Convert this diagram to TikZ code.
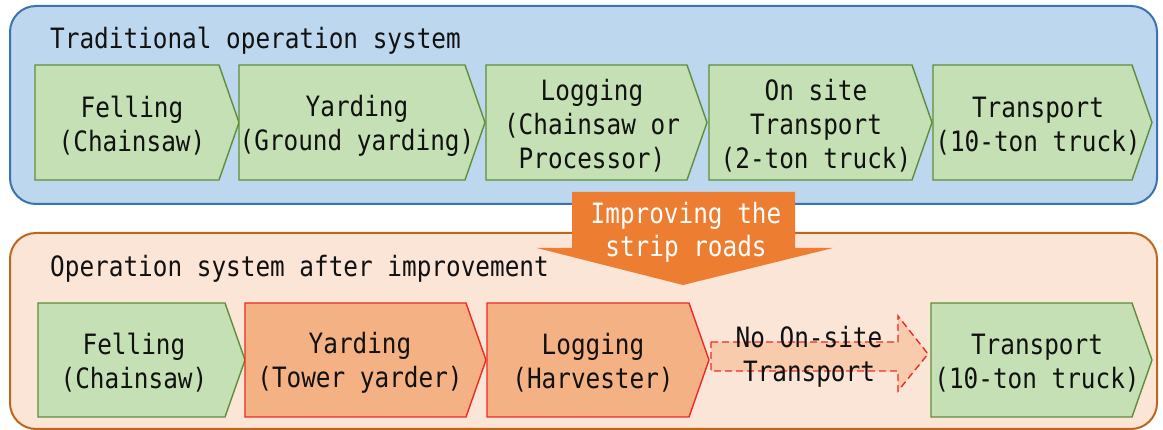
\documentclass[tikz,border=0pt]{standalone}
\usepackage{fontspec}
\newfontfamily\diafont{DejaVu Sans Mono}[FakeStretch=0.87]
\definecolor{bluefill}{HTML}{BDD7EE}
\definecolor{blueline}{HTML}{3A73B0}
\definecolor{peachfill}{HTML}{FBE5D6}
\definecolor{peachline}{HTML}{C0651E}
\definecolor{greenfill}{HTML}{C5E0B4}
\definecolor{greenline}{HTML}{5E8E3A}
\definecolor{orangefill}{HTML}{F4B183}
\definecolor{redline}{HTML}{EE2A24}
\definecolor{bigorange}{HTML}{ED7D31}
\definecolor{dashfill}{HTML}{F8CBAD}
\definecolor{inktext}{HTML}{111111}
\newcommand\chevshape[5]{\path[#1] (#2,#4) -- ({#3-20},#4) -- (#3,{(#4+#5)/2}) -- ({#3-20},#5) -- (#2,#5) -- cycle;}
\begin{document}
\begin{tikzpicture}[x=1pt,y=-1pt,
  txt/.style={font=\diafont\fontsize{28}{34}\selectfont, align=center, text=inktext, inner sep=0pt},
  titletxt/.style={font=\diafont\fontsize{28}{34}\selectfont, text=inktext, inner sep=0pt, anchor=base west},
  bluepanel/.style={fill=bluefill, draw=blueline, line width=2pt, rounded corners=26pt},
  peachpanel/.style={fill=peachfill, draw=peachline, line width=2pt, rounded corners=26pt},
  greenbox/.style={fill=greenfill, draw=greenline, line width=1.4pt},
  orangebox/.style={fill=orangefill, draw=redline, line width=1.4pt},
  dashbox/.style={fill=dashfill, draw=redline, line width=1.4pt, dash pattern=on 7pt off 4pt},
  bigarrow/.style={fill=bigorange, draw=none},
  whitetxt/.style={font=\diafont\fontsize{28}{33}\selectfont, align=center, text=white, inner sep=0pt}
]
\useasboundingbox (0,0) rectangle (1163,430);

% panels
\path[bluepanel] (10,6) rectangle (1157,204);
\path[peachpanel] (10,233) rectangle (1157,429);

\node[titletxt] (title1) at (50,49) {Traditional operation system};
\node[titletxt] (title2) at (50,277) {Operation system after improvement};

% top row
\chevshape{greenbox}{35}{239}{65}{180}
\chevshape{greenbox}{239}{485}{65}{180}
\chevshape{greenbox}{486}{707}{65}{180}
\chevshape{greenbox}{709}{932}{65}{180}
\chevshape{greenbox}{933}{1152}{65}{180}

\node[txt] (t1) at (132,126) {Felling\\(Chainsaw)};
\node[txt] (t2) at (357,126) {Yarding\\(Ground yarding)};
\node[txt] (t3) at (592,126) {Logging\\(Chainsaw or\\Processor)};
\node[txt] (t4) at (816,126) {On site\\Transport\\(2-ton truck)};
\node[txt] (t5) at (1038,126) {Transport\\(10-ton truck)};

% big orange arrow
\path[bigarrow] (572,192) -- (795,192) -- (795,248) -- (833,248) -- (683,285) -- (537,248) -- (572,248) -- cycle;
\node[whitetxt] (imp) at (686,232) {Improving the\\strip roads};

% bottom row
\chevshape{greenbox}{38}{245}{303}{417}
\chevshape{orangebox}{245}{486}{303}{417}
\chevshape{orangebox}{487}{709}{303}{417}
\path[dashbox] (711,342) -- (898,342) -- (898,316) -- (928,354) -- (898,391) -- (898,371) -- (711,371) -- cycle;
\chevshape{greenbox}{931}{1152}{303}{417}

\node[txt] (b1) at (134,363) {Felling\\(Chainsaw)};
\node[txt] (b2) at (360,363) {Yarding\\(Tower yarder)};
\node[txt] (b3) at (593,363) {Logging\\(Harvester)};
\node[txt] (b4) at (809,357) {No On-site\\Transport};
\node[txt] (b5) at (1037,363) {Transport\\(10-ton truck)};
\end{tikzpicture}
\end{document}
